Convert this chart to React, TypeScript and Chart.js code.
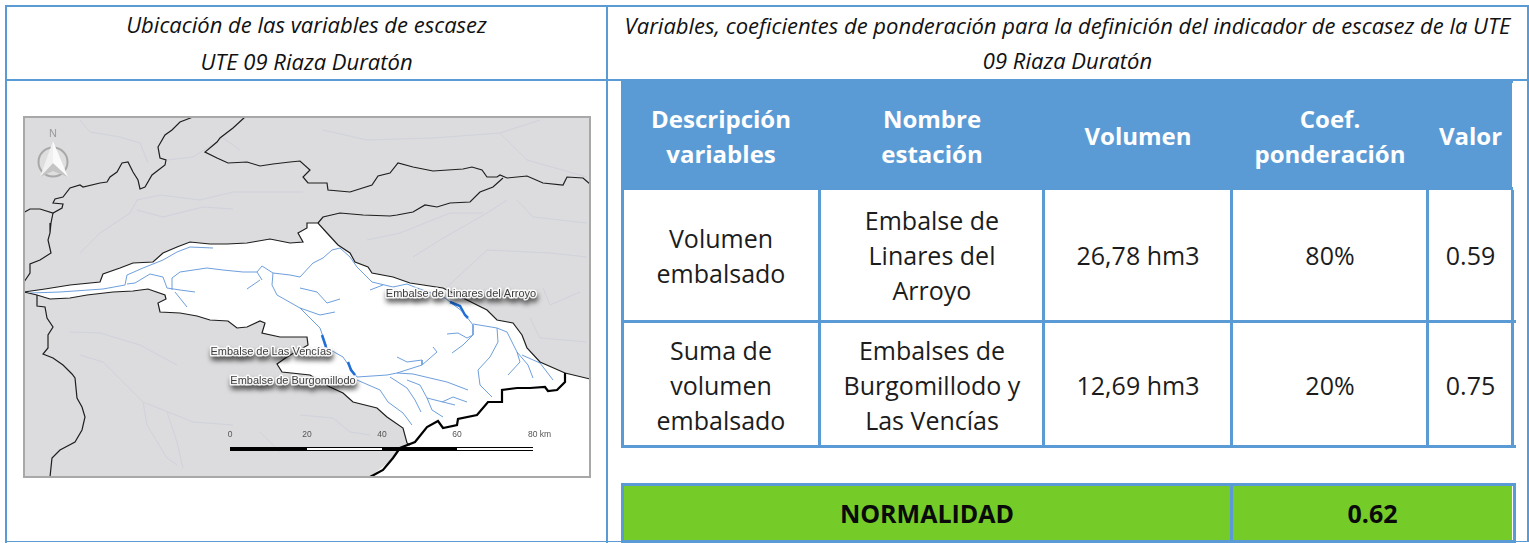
import React, { useEffect, useRef } from "react";
import { Chart, registerables } from "chart.js";

Chart.register(...registerables);

type P = [number, number];

// ---------- table content ----------
const leftTitle = ["Ubicación de las variables de escasez", "UTE 09 Riaza Duratón"];
const rightTitle = [
  "Variables, coeficientes de ponderación para la definición del indicador de escasez de la UTE",
  "09 Riaza Duratón",
];
const headers = [
  ["Descripción", "variables"],
  ["Nombre", "estación"],
  ["Volumen"],
  ["Coef.", "ponderación"],
  ["Valor"],
];
const row1 = [["Volumen", "embalsado"], ["Embalse de", "Linares del", "Arroyo"], ["26,78 hm3"], ["80%"], ["0.59"]];
const row2 = [["Suma de", "volumen", "embalsado"], ["Embalses de", "Burgomillodo y", "Las Vencías"], ["12,69 hm3"], ["20%"], ["0.75"]];
const statusLabel = "NORMALIDAD";
const statusValue = "0.62";

// ---------- map content (in map units) ----------
const ridgeB: P[] = [[23,213],[30,209],[40,209],[53,213],[62,208],[63,204],[53,203],[55,199],[63,197],[70,188],[80,185],[83,187],[100,183],[107,182],[110,177],[117,172],[122,163],[128,162],[133,172],[138,180],[140,189],[145,187],[152,175],[165,165],[166,160],[160,158],[158,147],[165,135],[172,130],[180,122],[193,117]];
const ridgeC: P[] = [[53,213],[51,223],[50,233],[48,240],[51,253],[40,260],[30,264],[30,273],[24,282]];
const ridgeD: P[] = [[245,117],[233,128],[220,138],[217,142],[205,152],[217,158],[228,163],[247,162],[260,166],[273,164],[290,162],[300,161],[310,170],[303,177],[308,183],[327,183],[328,190],[350,192],[372,185],[378,176],[390,173],[398,163],[413,167],[433,171],[463,169],[472,167],[482,170],[487,177],[497,177],[500,175],[507,178],[527,176],[543,183],[563,185],[567,177],[583,178],[590,184]];
const ridgeE: P[] = [[318,223],[323,217],[340,213],[363,215],[390,216],[397,215],[413,212],[425,205],[437,207],[450,203],[470,202],[480,192],[493,187],[503,178]];
const ridgeF: P[] = [[37,295],[37,300],[37,306],[45,307],[47,318],[53,327],[48,335],[48,348],[43,354],[53,358],[63,365],[72,374],[75,378],[77,398],[82,407],[85,417],[82,430],[75,442],[60,450],[52,458],[50,477]];
const basinNorth: P[] = [[24,292],[45,289],[70,285],[100,282],[103,274],[120,268],[133,263],[153,262],[163,253],[177,247],[190,242],[210,244],[227,244],[247,243],[270,239],[290,243],[303,242],[298,233],[307,228],[307,223],[318,223],[327,233],[338,245],[350,253],[355,262],[368,267],[372,273],[393,277],[410,283],[443,288],[463,298],[487,310],[497,320],[513,323],[522,335],[527,348],[540,362],[565,373]];
const eastEdge: P[] = [[565,373],[590,379]];
const thickBorder: P[] = [[565,373],[565,382],[557,390],[548,391],[545,387],[530,388],[517,388],[502,390],[502,402],[488,402],[477,415],[458,419],[457,425],[443,428],[438,421],[427,427],[415,442],[400,448],[393,458],[383,470],[370,477]];
const basinSouth: P[] = [[410,445],[407,443],[403,428],[387,417],[377,408],[353,402],[343,393],[330,387],[310,375],[282,372],[277,364],[287,357],[308,345],[307,337],[280,337],[262,333],[265,323],[260,321],[247,327],[237,328],[228,321],[210,320],[197,316],[180,313],[160,312],[158,303],[166,299],[165,295],[148,289],[133,291],[113,292],[87,295],[70,298],[50,299],[37,295],[24,292]];
const outsideCorner: P[] = [[370,478],[591,478],[590,379]];

const rivers: P[][] = [
  [[213,248],[190,247],[177,252],[163,260],[143,268],[127,275],[125,285],[103,289],[60,292],[30,293]],
  [[127,284],[135,283],[150,274],[163,277],[167,288],[180,290],[195,292]],
  [[175,292],[187,307]],
  [[172,290],[172,278],[180,272],[207,268],[223,270],[243,272],[257,272],[262,266],[273,273],[290,275],[300,277],[313,263],[323,258],[332,250],[340,248],[350,257],[357,267],[372,282],[393,287],[407,284],[417,288],[445,298],[463,312],[473,325],[473,335],[463,345],[452,353]],
  [[273,273],[272,285],[277,295],[300,308],[310,318],[320,328],[327,348],[343,357],[350,367],[357,377],[387,375],[397,373],[422,365],[437,352],[433,347]],
  [[260,280],[247,289]],
  [[257,272],[262,280]],
  [[300,308],[320,315],[335,312]],
  [[300,288],[317,292],[327,303],[340,299]],
  [[370,290],[383,285]],
  [[397,357],[407,362],[422,360],[422,365]],
  [[397,373],[413,374],[447,382],[468,390]],
  [[357,380],[380,390],[388,402],[403,413],[412,425]],
  [[390,377],[407,388],[415,400],[421,412]],
  [[407,380],[420,385],[427,398],[432,410],[443,417]],
  [[427,398],[447,403],[455,405]],
  [[442,402],[453,397],[467,402]],
  [[447,334],[458,333],[467,338],[473,335]],
  [[473,324],[497,328],[498,342],[490,357],[478,370],[480,385],[492,397]],
  [[497,328],[507,332],[517,352],[520,362],[508,375]],
  [[517,352],[528,365],[533,378]],
  [[522,355],[540,363],[553,380]],
];
const reservoirs: P[][] = [
  [[450,302],[460,306],[465,315],[468,318]],
  [[322,335],[326,347]],
  [[348,362],[351,370],[355,375]],
];
const faintStreams: P[][] = [
  [[80,253],[100,233],[130,213],[137,200],[160,195],[200,200],[233,192],[303,192]],
  [[137,210],[163,217],[203,207],[233,209]],
  [[80,120],[90,132],[120,137],[140,143],[148,163]],
  [[167,160],[193,157],[223,138],[240,150]],
  [[323,130],[367,140],[433,138],[500,133],[540,120]],
  [[500,133],[527,160],[587,177]],
  [[367,240],[400,233],[450,213],[483,213]],
  [[413,257],[440,240],[487,213],[507,200]],
  [[447,287],[487,250],[550,253],[587,257]],
  [[517,200],[533,217],[587,223]],
  [[70,332],[100,333],[140,345],[177,365]],
  [[80,355],[103,362],[133,392],[143,402],[193,422],[233,425]],
  [[143,402],[147,425],[167,458],[177,465]],
  [[167,412],[177,442],[183,468]],
  [[260,432],[280,452]],
  [[300,415],[333,418],[350,432],[370,435]],
  [[530,318],[540,338],[587,342]],
  [[543,288],[550,305],[580,292]],
];
const compassRing: P[] = [[53,162]];
const compassLeft: P[] = [[53,141],[40,177],[53,163]];
const compassRight: P[] = [[53,141],[68,177],[53,163]];
const compassLower: P[] = [[40,177],[53,163],[68,177],[53,171]];
const scaleKm = [0, 20, 40, 60, 80];
const scaleX = [230, 307, 382, 457, 533];
const scaleY = 449;
const placeNames: { text: string; at: P }[] = [
  { text: "Embalse de Linares del Arroyo", at: [461, 294] },
  { text: "Embalse de Las Vencías", at: [271, 352] },
  { text: "Embalse de Burgomillodo", at: [293, 381] },
];

// ---------- layout ----------
const BLUE = "#5b9bd5";
const GREEN = "#75cc28";
const colEdges = [622, 820, 1044, 1232, 1428, 1513];
const FONT = "'Open Sans', Lato, sans-serif";

function line(data: P[], color: string, width: number) {
  return {
    type: "line" as const,
    data: data.map(([x, y]) => ({ x, y })),
    borderColor: color,
    backgroundColor: color,
    borderWidth: width,
    pointRadius: 0,
    tension: 0,
    fill: false,
  };
}
function area(data: P[], color: string) {
  return { ...line(data, color, 0), fill: "shape" };
}

const mapDecor = {
  id: "mapDecor",
  beforeDatasetsDraw(chart: any) {
    const { ctx, chartArea: a } = chart;
    ctx.save();
    ctx.fillStyle = "#dcdcde";
    ctx.fillRect(a.left, a.top, a.right - a.left, a.bottom - a.top);
    ctx.restore();
  },
  afterDatasetsDraw(chart: any) {
    const { ctx, scales } = chart;
    const X = (v: number) => scales.x.getPixelForValue(v);
    const Y = (v: number) => scales.y.getPixelForValue(v);
    ctx.save();
    ctx.font = "11px 'Liberation Sans', sans-serif";
    ctx.textAlign = "center";
    ctx.textBaseline = "middle";
    ctx.lineJoin = "round";
    for (const { text, at } of placeNames) {
      ctx.save();
      ctx.shadowColor = "rgba(0,0,0,0.65)";
      ctx.shadowBlur = 5;
      ctx.shadowOffsetX = 1;
      ctx.shadowOffsetY = 4;
      ctx.fillStyle = "rgba(255,255,255,0.9)";
      ctx.strokeStyle = "rgba(255,255,255,0.9)";
      ctx.lineWidth = 3;
      ctx.strokeText(text, X(at[0]), Y(at[1]));
      ctx.restore();
      ctx.fillStyle = "#3c3c3c";
      ctx.fillText(text, X(at[0]), Y(at[1]));
    }
    ctx.font = "8.5px 'Liberation Sans', sans-serif";
    ctx.fillStyle = "#555";
    scaleKm.forEach((km, i) => {
      if (i === scaleKm.length - 1) {
        ctx.textAlign = "left";
        ctx.fillText(km + " km", X(scaleX[i]) - 5, Y(scaleY - 14));
      } else {
        ctx.textAlign = "center";
        ctx.fillText(String(km), X(scaleX[i]), Y(scaleY - 14));
      }
    });
    ctx.textAlign = "center";
    ctx.font = "11px 'Liberation Sans', sans-serif";
    ctx.fillStyle = "#9a9a9a";
    ctx.fillText("N", X(compassRing[0][0]), Y(134));
    ctx.restore();
  },
};

function Rect({ x, y, w, h, c }: { x: number; y: number; w: number; h: number; c: string }) {
  return <div style={{ position: "absolute", left: x, top: y, width: w, height: h, background: c }} />;
}

function Cell(props: {
  x0: number; x1: number; y0: number; y1: number; lines: string[]; size: number; lh: number;
  color?: string; bold?: boolean; italic?: boolean; ls?: number;
}) {
  const { x0, x1, y0, y1, lines, size, lh, color = "#1c1c1c", bold, italic, ls = 0 } = props;
  return (
    <div
      style={{
        position: "absolute", left: x0, top: y0, width: x1 - x0, height: y1 - y0,
        display: "flex", flexDirection: "column", alignItems: "center", justifyContent: "center",
        fontFamily: FONT, fontSize: size, lineHeight: `${lh}px`, color,
        fontWeight: bold ? 700 : 400, fontStyle: italic ? "italic" : "normal",
        letterSpacing: ls, whiteSpace: "nowrap",
      }}
    >
      {lines.map((t, i) => <div key={i}>{t}</div>)}
    </div>
  );
}

export default function App() {
  const ref = useRef<HTMLCanvasElement>(null);
  useEffect(() => {
    const bar = scaleKm.slice(0, -1).map((_, i) => {
      const seg: P[] = [[scaleX[i], scaleY], [scaleX[i + 1], scaleY]];
      return i % 2 === 0 ? [line(seg, "#000", 4)] : [line(seg, "#000", 4), line(seg, "#fff", 2)];
    }).flat();
    const layers: any[] = [
      area([...basinNorth, ...thickBorder.slice(1), ...basinSouth], "#ffffff"),
      area([...thickBorder, ...outsideCorner], "#ffffff"),
      ...faintStreams.map((s) => line(s, "#d0d2dc", 1)),
      ...rivers.map((r) => line(r, "#6e9fdc", 1)),
      ...reservoirs.map((r) => line(r, "#1f6fd6", 2.5)),
      ...[ridgeB, ridgeC, ridgeD, ridgeE, ridgeF, basinNorth, eastEdge, basinSouth].map((r) => line(r, "#1e1e1e", 1.2)),
      line(thickBorder, "#000", 2.2),
      ...bar,
      {
        type: "scatter" as const,
        data: compassRing.map(([x, y]) => ({ x, y })),
        pointRadius: 14.5,
        pointBackgroundColor: "rgba(225,225,225,0.4)",
        pointBorderColor: "#a8a8a8",
        pointBorderWidth: 2,
      },
      area(compassLower, "#c4c4c4"),
      area(compassLeft, "#f0f0f0"),
      area(compassRight, "#fafafa"),
    ];
    // Chart.js paints the first dataset last, so the bottom layer goes to the end
    const chart = new Chart(ref.current!, {
      type: "scatter",
      data: { datasets: layers.reverse() },
      options: {
        animation: false,
        responsive: false,
        maintainAspectRatio: false,
        layout: { padding: 0, autoPadding: false },
        plugins: { legend: { display: false }, tooltip: { enabled: false }, title: { display: false } },
        scales: {
          x: { type: "linear", display: false, min: 23, max: 591 },
          y: { type: "linear", display: false, min: 116, max: 478, reverse: true },
        },
      },
      plugins: [mapDecor],
    } as any);
    return () => chart.destroy();
  }, []);

  const rows: [string[][], number, number][] = [[row1, 190, 321], [row2, 321, 449]];

  return (
    <div style={{ position: "absolute", left: 0, top: 0, width: 1529, height: 543, overflow: "hidden", background: "#fff" }}>
      <Rect x={5} y={5} w={1523} h={2} c={BLUE} />
      <Rect x={5} y={5} w={2} h={538} c={BLUE} />
      <Rect x={1527} y={5} w={2} h={537} c={BLUE} />
      <Rect x={606} y={5} w={2} h={538} c={BLUE} />
      <Rect x={5} y={79} w={1524} h={2} c={BLUE} />
      <Rect x={5} y={541} w={1524} h={1} c={BLUE} />

      <Cell x0={7} x1={606} y0={6} y1={79} lines={leftTitle} size={22} lh={37} italic color="#111" />
      <Cell x0={608} x1={1527} y0={6} y1={79} lines={rightTitle} size={22} lh={35} italic color="#111" />

      <Rect x={621} y={79} w={892} h={111} c={BLUE} />
      <Rect x={1512} y={83} w={1} h={104} c="#fff" />
      {headers.map((lines, i) => (
        <Cell key={i} x0={colEdges[i]} x1={colEdges[i + 1]} y0={81} y1={190} lines={lines} size={24} lh={35} color="#fff" bold />
      ))}

      {rows.map(([row, y0, y1], r) => row.map((lines, i) => (
        <Cell key={`${r}-${i}`} x0={colEdges[i]} x1={colEdges[i + 1]} y0={y0} y1={y1} lines={lines} size={25} lh={35} />
      )))}
      {colEdges.map((x, i) => <Rect key={i} x={x - (i === 0 ? 1 : 2)} y={190} w={3} h={258} c={BLUE} />)}
      <Rect x={621} y={320} w={895} h={3} c={BLUE} />
      <Rect x={621} y={445} w={895} h={3} c={BLUE} />

      <Rect x={621} y={483} w={895} h={60} c={BLUE} />
      <Rect x={624} y={486} w={606} h={54} c={GREEN} />
      <Rect x={1233} y={486} w={279} h={54} c={GREEN} />
      <Rect x={1512} y={486} w={1} h={54} c="#fff" />
      <Cell x0={624} x1={1230} y0={486} y1={540} lines={[statusLabel]} size={25} lh={35} bold color="#0a0a0a" />
      <Cell x0={1233} x1={1512} y0={486} y1={540} lines={[statusValue]} size={25} lh={35} bold color="#0a0a0a" />

      <canvas ref={ref} width={568} height={362} style={{ position: "absolute", left: 23, top: 116, width: 568, height: 362 }} />
      <div style={{ position: "absolute", left: 23, top: 116, width: 564, height: 358, border: "2px solid #a8a8a8" }} />
    </div>
  );
}
